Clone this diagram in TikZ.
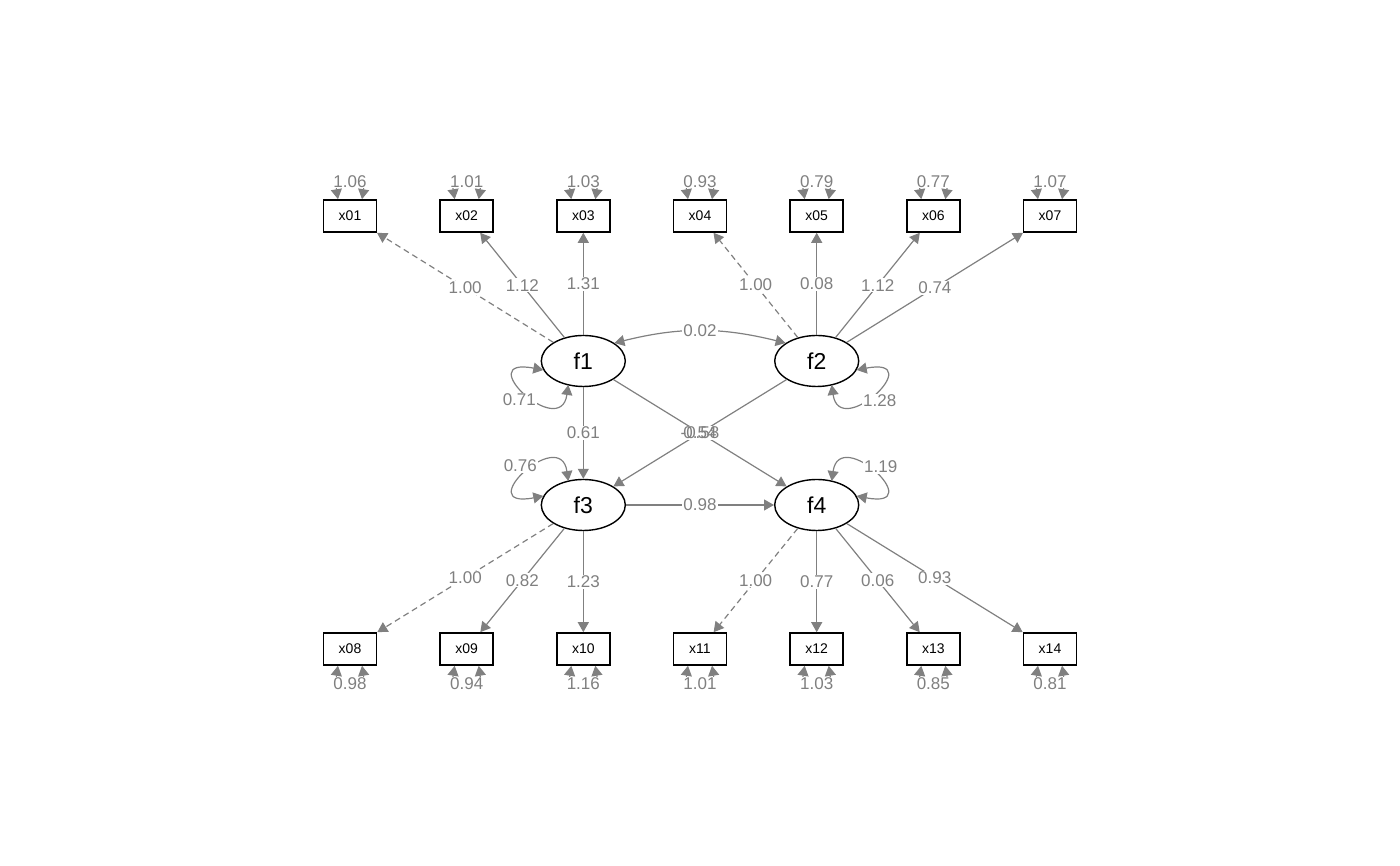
\documentclass[tikz,border=0pt]{standalone}
\usepackage{fontspec}
\setmainfont{Liberation Sans}
\usetikzlibrary{arrows.meta,shapes.geometric}
\begin{document}
\begin{tikzpicture}[x=1pt,y=1pt,
 obs/.style={draw=black, line width=1.6pt, minimum width=53pt, minimum height=32pt, inner sep=0pt, font=\fontsize{14}{16}\selectfont},
 lat/.style={draw=black, line width=1.4pt, ellipse, minimum width=84pt, minimum height=51pt, inner sep=0pt, font=\fontsize{23}{26}\selectfont},
 edge/.style={draw=gray, line width=1.2pt, -{Triangle[length=10pt,width=11pt]}},
 biedge/.style={draw=gray, line width=1.2pt, {Triangle[length=10pt,width=11pt]}-{Triangle[length=10pt,width=11pt]}},
 lab/.style={fill=white, text=gray, inner sep=1pt, font=\fontsize{17}{19}\selectfont},
 fixed/.style={dash pattern=on 6pt off 4pt}]
\useasboundingbox (0,0) rectangle (1400,866);
% observed
\node[obs] (x01) at (350,650) {x01};
\node[obs] (x02) at (466.7,650) {x02};
\node[obs] (x03) at (583.3,650) {x03};
\node[obs] (x04) at (700,650) {x04};
\node[obs] (x05) at (816.7,650) {x05};
\node[obs] (x06) at (933.3,650) {x06};
\node[obs] (x07) at (1050,650) {x07};
\node[obs] (x08) at (350,217) {x08};
\node[obs] (x09) at (466.7,217) {x09};
\node[obs] (x10) at (583.3,217) {x10};
\node[obs] (x11) at (700,217) {x11};
\node[obs] (x12) at (816.7,217) {x12};
\node[obs] (x13) at (933.3,217) {x13};
\node[obs] (x14) at (1050,217) {x14};
% latent
\node[lat] (f1) at (583.3,505) {f1};
\node[lat] (f2) at (816.7,505) {f2};
\node[lat] (f3) at (583.3,361) {f3};
\node[lat] (f4) at (816.7,361) {f4};
% loadings
\draw[edge,fixed] (f1) -- node[lab]{1.00} (x01);
\draw[edge] (f1) -- node[lab]{1.12} (x02);
\draw[edge] (f1) -- node[lab]{1.31} (x03);
\draw[edge,fixed] (f2) -- node[lab]{1.00} (x04);
\draw[edge] (f2) -- node[lab]{0.08} (x05);
\draw[edge] (f2) -- node[lab]{1.12} (x06);
\draw[edge] (f2) -- node[lab]{0.74} (x07);
\draw[edge,fixed] (f3) -- node[lab]{1.00} (x08);
\draw[edge] (f3) -- node[lab]{0.82} (x09);
\draw[edge] (f3) -- node[lab]{1.23} (x10);
\draw[edge,fixed] (f4) -- node[lab]{1.00} (x11);
\draw[edge] (f4) -- node[lab]{0.77} (x12);
\draw[edge] (f4) -- node[lab]{0.06} (x13);
\draw[edge] (f4) -- node[lab]{0.93} (x14);
% structural
\draw[edge] (f1) -- node[lab]{0.61} (f3);
\draw[edge] (f3) -- node[lab]{0.98} (f4);
\draw[edge] (f1) -- (f4);
\draw[edge] (f2) -- (f3);
\node[lab, minimum width=46pt] (lx) at (700,433) {\makebox[0pt]{-0.58}\makebox[0pt]{0.54}};
\draw[biedge] (f1.30) to[out=14,in=166] node[lab]{0.02} (f2.150);
% latent variances
\draw[biedge] ([shift={(-40,-9)}]f1.center) .. controls ([shift={(-113,5)}]f1.center) and ([shift={(-23,-80)}]f1.center) .. ([shift={(-15,-24)}]f1.center);
\node[lab] (v1) at ([shift={(-64,-39)}]f1.center) {0.71};
\draw[biedge] ([shift={(40,-9)}]f2.center) .. controls ([shift={(113,5)}]f2.center) and ([shift={(23,-80)}]f2.center) .. ([shift={(15,-24)}]f2.center);
\node[lab] (v2) at ([shift={(63,-40)}]f2.center) {1.28};
\draw[biedge] ([shift={(-40,9)}]f3.center) .. controls ([shift={(-113,-5)}]f3.center) and ([shift={(-23,80)}]f3.center) .. ([shift={(-15,24)}]f3.center);
\node[lab] (v3) at ([shift={(-63,39)}]f3.center) {0.76};
\draw[biedge] ([shift={(40,9)}]f4.center) .. controls ([shift={(113,-5)}]f4.center) and ([shift={(23,80)}]f4.center) .. ([shift={(15,24)}]f4.center);
\node[lab] (v4) at ([shift={(64,38)}]f4.center) {1.19};
% residuals top
\foreach \n/\v in {x01/1.06,x02/1.01,x03/1.03,x04/0.93,x05/0.79,x06/0.77,x07/1.07}{
  \draw[biedge] ([xshift=-12pt]\n.north) .. controls +(-4,24) and +(4,24) .. node[lab]{\v} ([xshift=12pt]\n.north);
}
\foreach \n/\v in {x08/0.98,x09/0.94,x10/1.16,x11/1.01,x12/1.03,x13/0.85,x14/0.81}{
  \draw[biedge] ([xshift=-12pt]\n.south) .. controls +(-4,-24) and +(4,-24) .. node[lab]{\v} ([xshift=12pt]\n.south);
}
\end{tikzpicture}
\end{document}
